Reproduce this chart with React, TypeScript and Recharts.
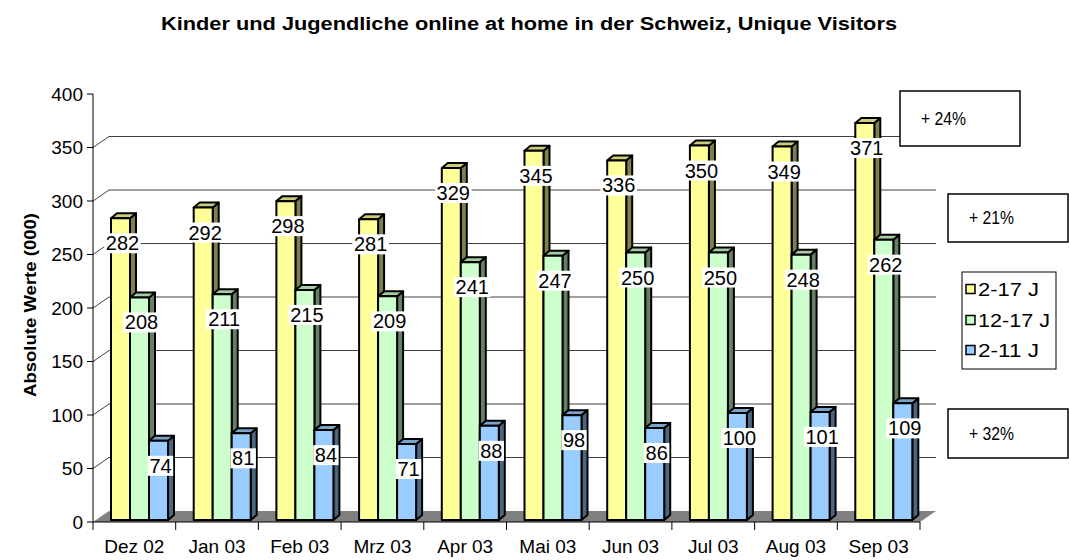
import {
  BarChart,
  Bar,
  XAxis,
  YAxis,
  CartesianGrid,
  LabelList,
} from "recharts";

const months = ["Dez 02", "Jan 03", "Feb 03", "Mrz 03", "Apr 03", "Mai 03", "Jun 03", "Jul 03", "Aug 03", "Sep 03"];
const age2to17 = [282, 292, 298, 281, 329, 345, 336, 350, 349, 371];
const age12to17 = [208, 211, 215, 209, 241, 247, 250, 250, 248, 262];
const age2to11 = [74, 81, 84, 71, 88, 98, 86, 100, 101, 109];
const yTicks = [0, 50, 100, 150, 200, 250, 300, 350, 400];
const seriesNames = ["2-17 J", "12-17 J", "2-11 J"];
const growthNotes = ["+ 24%", "+ 21%", "+ 32%"];

const W = 1069;
const H = 560;
const PLOT_LEFT = 93;
const PLOT_TOP = 94;
const PLOT_RIGHT = 920;
const PLOT_BOTTOM = 522;

// back wall offset and bar depth (fake 3D)
const WALL_DX = 16;
const WALL_DY = -11;
const BAR_DX = 6;
const BAR_DY = -5;
const SHIFT_X = 5;
const SHIFT_Y = -2;

const FONT = '"Liberation Sans", Arial, sans-serif';

const palette = [
  { front: "#FFFF99", top: "#CCCC7A", side: "#80804C" },
  { front: "#CCFFCC", top: "#A3CCA3", side: "#668066" },
  { front: "#99CCFF", top: "#7AA3CC", side: "#4C6680" },
];

const rows = months.map((m, i) => ({
  month: m,
  a: age2to17[i],
  b: age12to17[i],
  c: age2to11[i],
}));

function makeShape(c: { front: string; top: string; side: string }) {
  return (props: any) => {
    const { width, height } = props;
    if (!height || height <= 0) return <g />;
    const x = props.x + SHIFT_X;
    const y = props.y + SHIFT_Y;
    const w = width;
    const h = height;
    const topPts = `${x},${y} ${x + w},${y} ${x + w + BAR_DX},${y + BAR_DY} ${x + BAR_DX},${y + BAR_DY}`;
    const sidePts = `${x + w},${y} ${x + w + BAR_DX},${y + BAR_DY} ${x + w + BAR_DX},${y + h + BAR_DY} ${x + w},${y + h}`;
    return (
      <g stroke="#000" strokeWidth={2} strokeLinejoin="round">
        <polygon points={sidePts} fill={c.side} />
        <polygon points={topPts} fill={c.top} />
        <rect x={x} y={y} width={w} height={h} fill={c.front} />
      </g>
    );
  };
}

const renderValueLabel = (props: any) => {
  const { x, y, width, value } = props;
  const cx = Number(x) + SHIFT_X + Number(width) / 2 + 2;
  const cy = Number(y) + SHIFT_Y + 25;
  const txt = String(value);
  const bw = txt.length * 11.2 + 3;
  return (
    <g>
      <rect x={cx - bw / 2} y={cy - 10} width={bw} height={20} fill="#fff" />
      <text
        x={cx}
        y={cy}
        textAnchor="middle"
        dominantBaseline="central"
        fontSize={20}
        fill="#000"
        fontFamily={FONT}
      >
        {txt}
      </text>
    </g>
  );
};

// grid rows live on the back wall; bottom row becomes the grey floor
const renderGridRow = (props: any) => {
  const { x1, y1, x2, index } = props;
  if (Math.abs(y1 - PLOT_BOTTOM) < 1) {
    const pts = `${x1},${y1} ${x2},${y1} ${x2 + WALL_DX},${y1 + WALL_DY} ${x1 + WALL_DX},${y1 + WALL_DY}`;
    return <polygon key={`floor-${index}`} points={pts} fill="#808080" stroke="none" />;
  }
  if (Math.abs(y1 - PLOT_TOP) < 1) return <g key={`top-${index}`} />;
  return (
    <g key={`row-${index}`} stroke="#404040" strokeWidth={1} fill="none">
      <line x1={x1} y1={y1} x2={x1 + WALL_DX} y2={y1 + WALL_DY} />
      <line x1={x1 + WALL_DX} y1={y1 + WALL_DY} x2={x2 + WALL_DX} y2={y1 + WALL_DY} />
    </g>
  );
};

// category boundary ticks under the axis
const renderBoundaryTick = (props: any) => {
  const { x1, index } = props;
  const yb = props.y2 ?? PLOT_BOTTOM;
  return <line key={`vt-${index}`} x1={x1} y1={yb} x2={x1} y2={yb + 8} stroke="#000" strokeWidth={1} />;
};

const verticalGen = (args: any) => {
  const off = args?.offset;
  const left = off?.left ?? PLOT_LEFT;
  const width = off?.width ?? PLOT_RIGHT - PLOT_LEFT;
  return Array.from({ length: months.length + 1 }, (_, i) => left + (i * width) / months.length);
};

const horizontalGen = (args: any) => {
  const off = args?.offset;
  const top = off?.top ?? PLOT_TOP;
  const height = off?.height ?? PLOT_BOTTOM - PLOT_TOP;
  const max = yTicks[yTicks.length - 1];
  return yTicks.map((v) => top + height * (1 - v / max));
};

export default function App() {
  const noteBoxes = [
    { x: 900, y: 91, w: 120, h: 55, tx: 921 },
    { x: 948, y: 194, w: 120, h: 48, tx: 969 },
    { x: 948, y: 409, w: 120, h: 49, tx: 969 },
  ];
  const legendRows = [289, 320, 350];
  return (
    <div
      style={{
        position: "absolute",
        left: 0,
        top: 0,
        width: W,
        height: H,
        background: "#fff",
        fontFamily: FONT,
      }}
    >
      <BarChart
        width={W}
        height={H}
        data={rows}
        margin={{ top: PLOT_TOP, right: W - PLOT_RIGHT, bottom: 0, left: 0 }}
        barGap={0}
        barSize={19}
      >
        <CartesianGrid
          horizontal={renderGridRow}
          vertical={renderBoundaryTick}
          horizontalCoordinatesGenerator={horizontalGen}
          verticalCoordinatesGenerator={verticalGen}
        />
        <XAxis
          dataKey="month"
          height={H - PLOT_BOTTOM}
          interval={0}
          tickLine={false}
          tickSize={8}
          tickMargin={10}
          axisLine={{ stroke: "#000" }}
          tick={{ fontSize: 19, fill: "#000" }}
        />
        <YAxis
          width={PLOT_LEFT}
          domain={[0, 400]}
          ticks={yTicks}
          interval={0}
          tickSize={6}
          tickMargin={4}
          axisLine={{ stroke: "#000" }}
          tickLine={{ stroke: "#000" }}
          tick={{ fontSize: 19, fill: "#000" }}
        />
        <Bar dataKey="a" name={seriesNames[0]} fill={palette[0].front} shape={makeShape(palette[0])} isAnimationActive={false}>
          <LabelList dataKey="a" content={renderValueLabel} />
        </Bar>
        <Bar dataKey="b" name={seriesNames[1]} fill={palette[1].front} shape={makeShape(palette[1])} isAnimationActive={false}>
          <LabelList dataKey="b" content={renderValueLabel} />
        </Bar>
        <Bar dataKey="c" name={seriesNames[2]} fill={palette[2].front} shape={makeShape(palette[2])} isAnimationActive={false}>
          <LabelList dataKey="c" content={renderValueLabel} />
        </Bar>
      </BarChart>

      <svg
        width={W}
        height={H}
        style={{ position: "absolute", left: 0, top: 0, pointerEvents: "none" }}
        fontFamily={FONT}
      >
        <text x={529} y={30} textAnchor="middle" fontSize={18} fontWeight="bold" textLength={736} lengthAdjust="spacingAndGlyphs">
          Kinder und Jugendliche online at home in der Schweiz, Unique Visitors
        </text>
        <text
          transform="translate(36,305) rotate(-90)"
          textAnchor="middle"
          fontSize={16}
          fontWeight="bold"
          textLength={184}
          lengthAdjust="spacingAndGlyphs"
        >
          Absolute Werte (000)
        </text>

        {noteBoxes.map((b, i) => (
          <g key={growthNotes[i]}>
            <rect x={b.x} y={b.y} width={b.w} height={b.h} fill="#fff" stroke="#000" strokeWidth={1.5} />
            <text
              x={b.tx}
              y={b.y + b.h / 2}
              dominantBaseline="central"
              fontSize={18}
              textLength={45}
              lengthAdjust="spacingAndGlyphs"
            >
              {growthNotes[i]}
            </text>
          </g>
        ))}

        <rect x={962} y={272} width={94} height={97} fill="#fff" stroke="#000" strokeWidth={1} />
        {seriesNames.map((name, i) => (
          <g key={name}>
            <rect x={966} y={legendRows[i] - 4.5} width={9} height={9} fill={palette[i].front} stroke="#000" strokeWidth={1.5} />
            <text
              x={978}
              y={legendRows[i]}
              dominantBaseline="central"
              fontSize={19}
              textLength={name.length > 6 ? 72 : 61}
              lengthAdjust="spacingAndGlyphs"
            >
              {name}
            </text>
          </g>
        ))}
      </svg>
    </div>
  );
}
